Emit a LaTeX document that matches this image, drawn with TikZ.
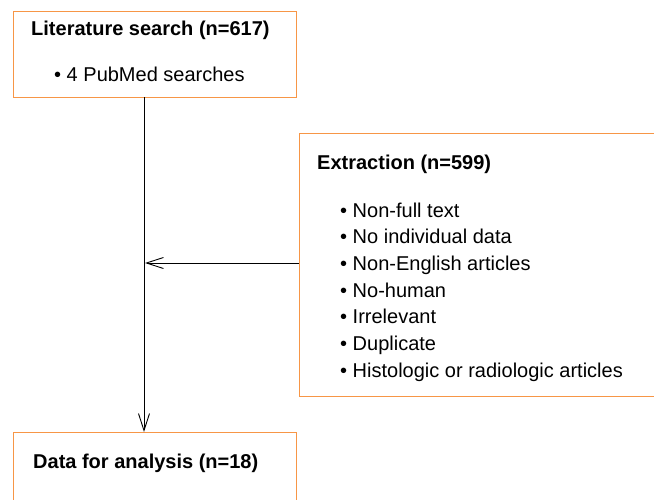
\documentclass[tikz,border=0pt]{standalone}
\usepackage{fontspec}
\setmainfont{Liberation Sans}
\usetikzlibrary{arrows.meta}
\definecolor{boxorange}{RGB}{247,150,70}
\begin{document}
\begin{tikzpicture}[x=1pt,y=-1pt,
  flowbox/.style={draw=boxorange,line width=1pt,rectangle,inner sep=0pt,anchor=north west},
  txt/.style={inner sep=0pt,anchor=base west,font=\fontsize{20}{24}\selectfont},
  ttl/.style={txt,font=\fontsize{20}{24}\selectfont\bfseries},
  arr/.style={draw=black,line width=0.9pt,-{Straight Barb[length=17pt,width=11pt,line width=0.9pt]}}]
\clip (0,0) rectangle (654,499);
\fill[white] (0,0) rectangle (654,499);
% boxes
\node[flowbox,minimum width=283pt,minimum height=86pt] (lit) at (13,11) {};
\node[flowbox,minimum width=420pt,minimum height=263pt] (ext) at (299,133) {};
\node[flowbox,minimum width=283pt,minimum height=100pt] (data) at (13,432) {};
% texts
\node[ttl] (littitle) at (31,35) {Literature search (n=617)};
\node[txt] (litlist) at (54,81) {• 4 PubMed searches};
\node[ttl] (exttitle) at (317,169) {Extraction (n=599)};
\node[txt] (e1) at (340,217) {• Non-full text};
\node[txt] (e2) at (340,243.7) {• No individual data};
\node[txt] (e3) at (340,270.3) {• Non-English articles};
\node[txt] (e4) at (340,297) {• No-human};
\node[txt] (e5) at (340,323.7) {• Irrelevant};
\node[txt] (e6) at (340,350.3) {• Duplicate};
\node[txt] (e7) at (340,377) {• Histologic or radiologic articles};
\node[ttl] (datatitle) at (33,468) {Data for analysis (n=18)};
% connectors
\coordinate (top) at (144,97);
\coordinate (bot) at (144,432);
\coordinate (j) at (145,263);
\draw[arr] (top) -- (bot);
\draw[arr] (ext.west |- j) -- (j);
\end{tikzpicture}
\end{document}
